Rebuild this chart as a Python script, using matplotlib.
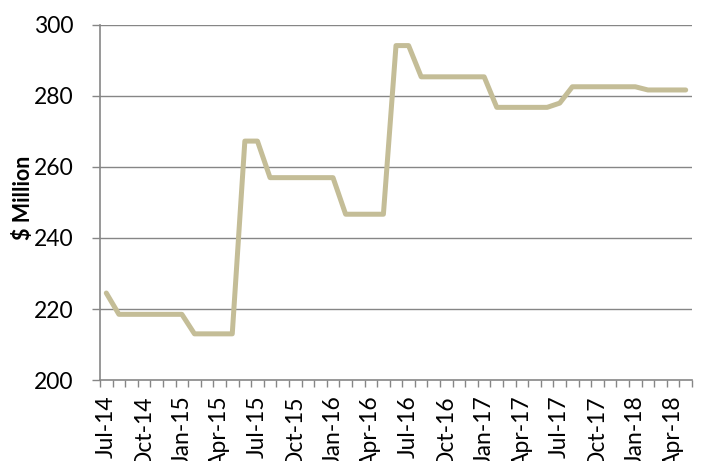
import matplotlib
matplotlib.use("Agg")
import matplotlib.pyplot as plt
import numpy as np

plt.rcParams['font.family'] = ['Lato', 'DejaVu Sans']

months = ["Jul-14", "Aug-14", "Sep-14", "Oct-14", "Nov-14", "Dec-14",
          "Jan-15", "Feb-15", "Mar-15", "Apr-15", "May-15", "Jun-15",
          "Jul-15", "Aug-15", "Sep-15", "Oct-15", "Nov-15", "Dec-15",
          "Jan-16", "Feb-16", "Mar-16", "Apr-16", "May-16", "Jun-16",
          "Jul-16", "Aug-16", "Sep-16", "Oct-16", "Nov-16", "Dec-16",
          "Jan-17", "Feb-17", "Mar-17", "Apr-17", "May-17", "Jun-17",
          "Jul-17", "Aug-17", "Sep-17", "Oct-17", "Nov-17", "Dec-17",
          "Jan-18", "Feb-18", "Mar-18", "Apr-18", "May-18"]

values = [224.5, 218.5, 218.5, 218.5, 218.5, 218.5,
          218.5, 213.0, 213.0, 213.0, 213.0, 267.3,
          267.3, 257.0, 257.0, 257.0, 257.0, 257.0,
          257.0, 246.7, 246.7, 246.7, 246.7, 294.2,
          294.2, 285.4, 285.4, 285.4, 285.4, 285.4,
          285.4, 276.8, 276.8, 276.8, 276.8, 276.8,
          278.0, 282.6, 282.6, 282.6, 282.6, 282.6,
          282.6, 281.7, 281.7, 281.7, 281.7]

y_ticks = [200, 220, 240, 260, 280, 300]

W, H = 701, 461
fig = plt.figure(figsize=(W / 100, H / 100), dpi=100)
ax = fig.add_axes([100 / W, (H - 380) / H, 592 / W, 355 / H])

grid_col = "#868686"
x = np.arange(len(months))
ax.plot(x, values, color="#C4BD97", lw=3.6, solid_joinstyle="round",
        solid_capstyle="round", zorder=3)

ax.set_xlim(-0.5, len(months) - 0.5)
ax.set_ylim(200, 300)

# horizontal gridlines
for yv in y_ticks[1:]:
    ax.axhline(yv, color=grid_col, lw=1.0, zorder=1)

ax.set_yticks(y_ticks)
ax.tick_params(axis="y", length=6, width=1.0, color=grid_col,
               labelsize=16.5, pad=13, labelcolor="black")

# category axis: labels every quarter, ticks on month boundaries
label_idx = list(range(0, len(months), 3))
ax.set_xticks(label_idx)
ax.set_xticklabels([months[i] for i in label_idx], rotation=90,
                   fontsize=16.5, va="top", ha="center")
ax.set_xticks(np.arange(-0.5, len(months)), minor=True)
ax.tick_params(axis="x", which="major", length=0, pad=11)
ax.tick_params(axis="x", which="minor", length=5, width=1.0, color=grid_col)

for side in ["top", "right"]:
    ax.spines[side].set_visible(False)
for side in ["left", "bottom"]:
    ax.spines[side].set_color(grid_col)
    ax.spines[side].set_linewidth(1.2)

fig.text(24 / W, 1 - 198 / H, "$ Million", rotation=90, fontsize=15.5,
         fontweight="bold", ha="center", va="center")

fig.savefig("out.png", dpi=100)
